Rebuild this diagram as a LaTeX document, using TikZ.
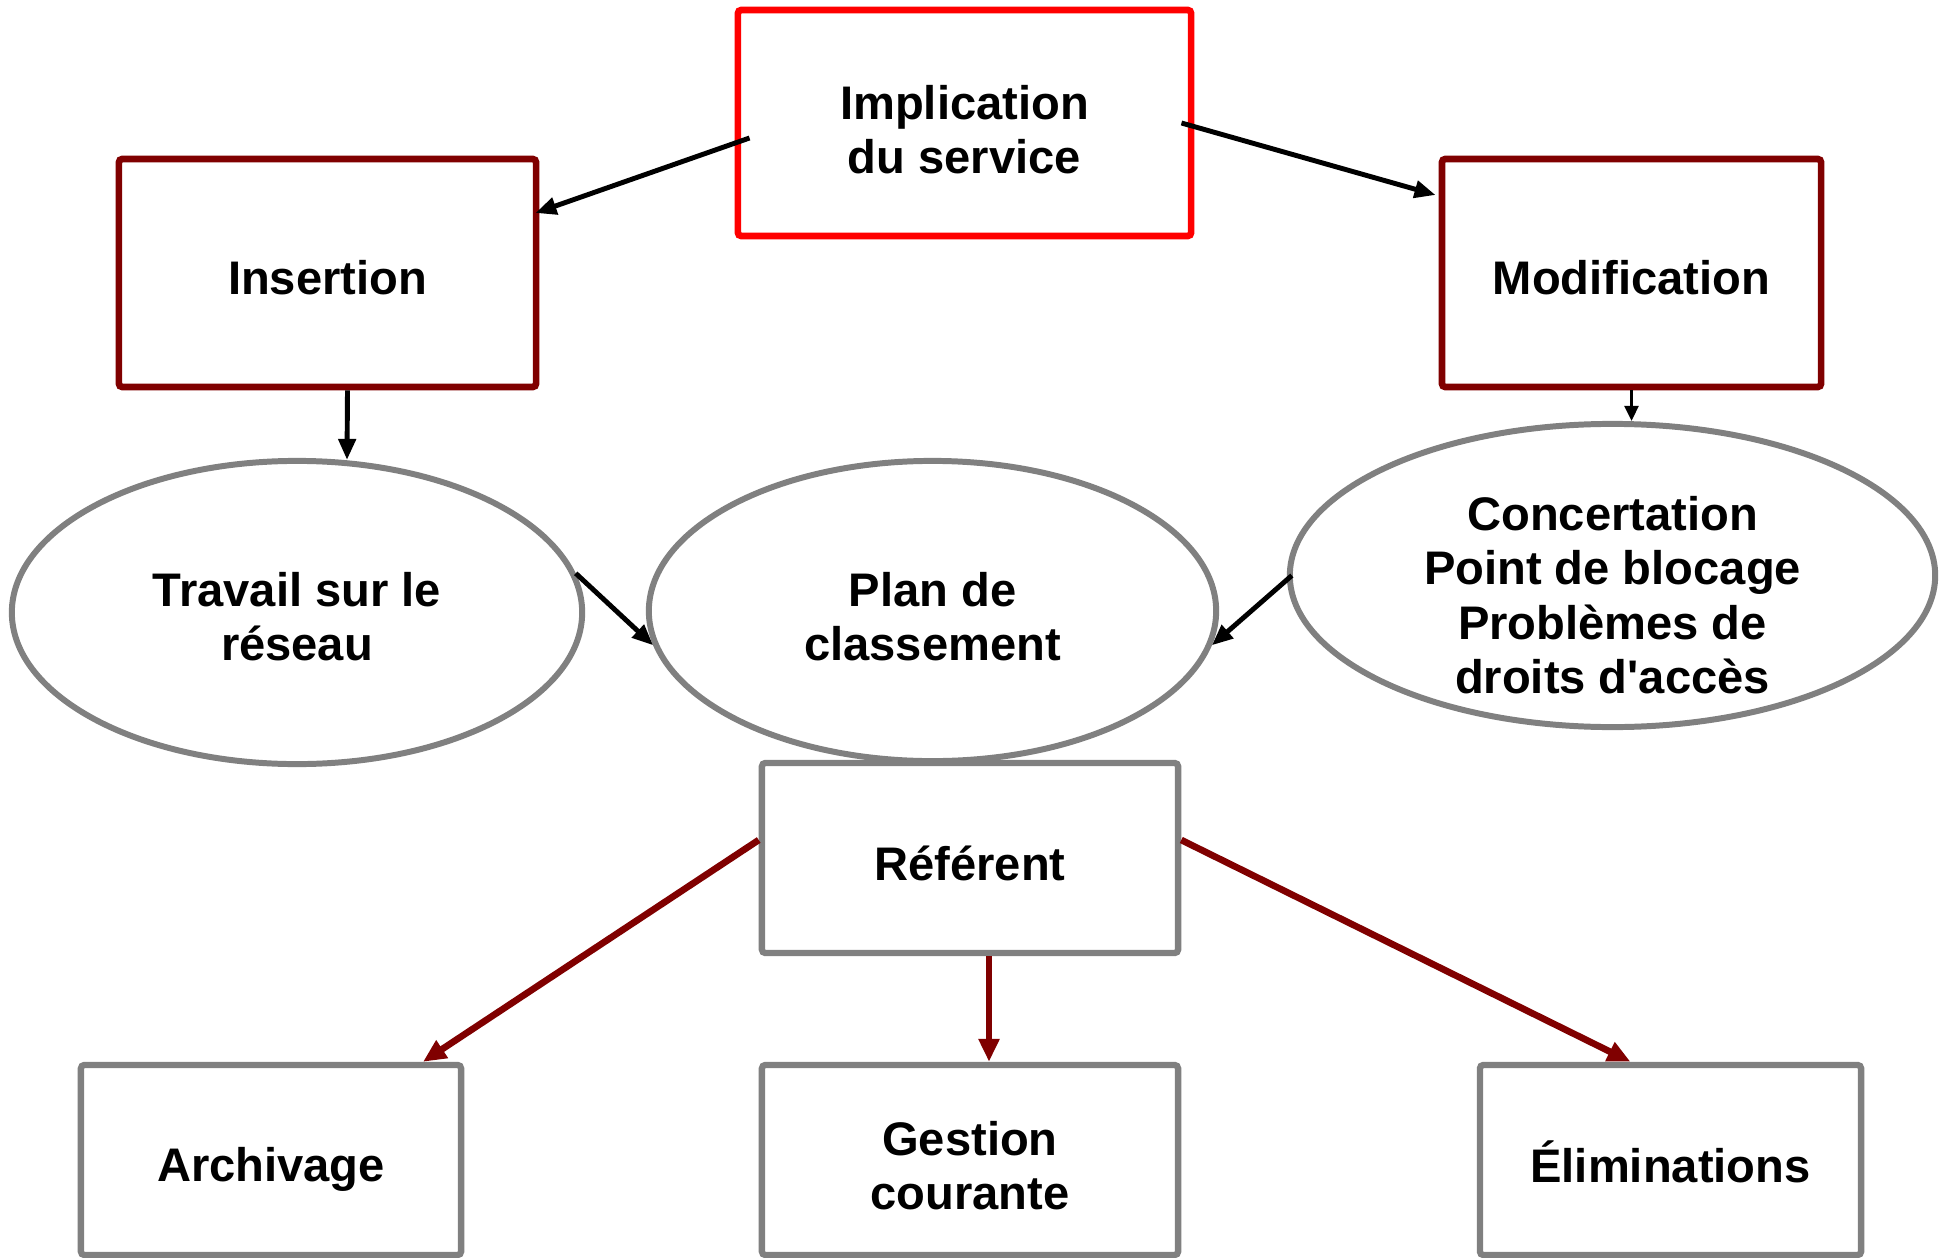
\documentclass[tikz,border=0pt]{standalone}
\usepackage{fontspec}
\newfontfamily\diagfont{Liberation Sans}[Ligatures=TeXOff]
\usetikzlibrary{shapes.geometric,arrows.meta,calc}
\definecolor{darkred}{RGB}{128,0,0}
\definecolor{brightred}{RGB}{255,0,0}
\definecolor{greyline}{RGB}{128,128,128}
\newcommand{\dtext}[2]{\raisebox{-#1}[0pt][0pt]{\begin{tabular}{@{}c@{}}#2\end{tabular}}}
\tikzset{
  lbl/.style={font=\diagfont\fontsize{13.4}{15.4}\selectfont\bfseries, inner sep=0pt},
  topbox/.style={lbl, draw=brightred, line width=1.9pt, rounded corners=1pt, fill=white},
  midbox/.style={lbl, draw=darkred, line width=1.9pt, rounded corners=1pt, fill=white},
  greybox/.style={lbl, draw=greyline, line width=1.8pt, rounded corners=1pt, fill=white},
  oval/.style={lbl, ellipse, draw=greyline, line width=1.7pt, fill=white},
  blackarrow/.style={draw=black, line width=1.4pt, -{Triangle[length=0.21cm,width=0.17cm]}},
  thinarrow/.style={draw=black, line width=0.7pt, -{Triangle[length=0.15cm,width=0.14cm]}},
  redarrow/.style={draw=darkred, line width=1.9pt, -{Triangle[length=0.23cm,width=0.2cm]}}
}
\begin{document}
\begin{tikzpicture}[x=0.01cm,y=-0.01cm]
\useasboundingbox (0,0) rectangle (1949,1258);
\fill[white] (0,0) rectangle (1949,1258);

\node[topbox, minimum width=4.53cm, minimum height=2.26cm] (impl) at (964.5,123) {\dtext{7.2pt}{Implication\\du service}};
\node[midbox, minimum width=4.17cm, minimum height=2.28cm] (ins) at (327.5,273) {\dtext{6.6pt}{Insertion}};
\node[midbox, minimum width=3.79cm, minimum height=2.28cm] (mod) at (1631.5,273) {\dtext{6.5pt}{Modification}};

\node[oval, minimum width=5.70cm, minimum height=3.03cm] (trav) at (297,612.5) {\dtext{6.6pt}{Travail sur le\\réseau}};
\node[oval, minimum width=5.67cm, minimum height=3.00cm] (plan) at (932.5,611) {\dtext{6.8pt}{Plan de\\classement}};
\node[oval, minimum width=6.45cm, minimum height=3.03cm] (conc) at (1612.5,575.5) {\dtext{10.9pt}{Concertation\\Point de blocage\\Problèmes de\\droits d'accès}};

\node[greybox, minimum width=4.16cm, minimum height=1.90cm] (ref) at (970,858) {\dtext{6.9pt}{Référent}};
\node[greybox, minimum width=3.80cm, minimum height=1.90cm] (arch) at (271,1160) {\dtext{6.5pt}{Archivage}};
\node[greybox, minimum width=4.16cm, minimum height=1.90cm] (gest) at (970,1160) {\dtext{6.8pt}{Gestion\\courante}};
\node[greybox, minimum width=3.81cm, minimum height=1.90cm] (elim) at (1670.5,1160) {\dtext{6.3pt}{Éliminations}};

\draw[blackarrow] ($(impl.west)+(15,15)$) -- ($(ins.east)+(-4,-60)$);
\draw[blackarrow] ($(impl.east)+(-13,0)$) -- ($(mod.west)+(-3,-78)$);
\draw[blackarrow] ($(ins.south)+(20,0)$) -- ($(trav.north)+(50,2)$);
\draw[thinarrow] (mod.south) -- (mod.south |- conc.north);
\draw[blackarrow] (trav.8) -- (plan.187);
\draw[blackarrow] ($(conc.west)+(5,0)$) -- (plan.-7);

\draw[redarrow] ($(ref.west)+(0,-18)$) -- ($(arch.north)+(152,0)$);
\draw[redarrow] ($(ref.south)+(19,0)$) -- ($(gest.north)+(19,0)$);
\draw[redarrow] ($(ref.east)+(0,-18)$) -- ($(elim.north)+(-40,0)$);
\end{tikzpicture}
\end{document}
